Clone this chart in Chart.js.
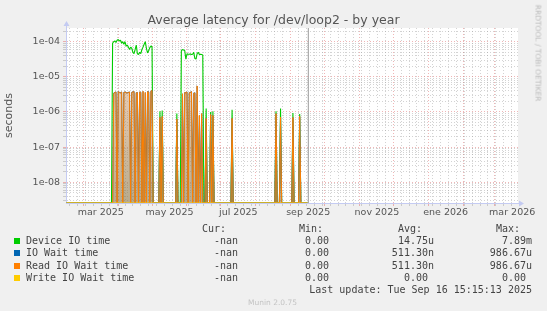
<!DOCTYPE html>
<html>
<head>
<meta charset="utf-8">
<script src="https://cdn.jsdelivr.net/npm/chart.js@4.4.1/dist/chart.umd.min.js"></script>
<style>
  body { margin: 0; background: #f0f0f0; }
  #wrap { position: relative; width: 547px; height: 311px; overflow: hidden; font-family: 'DejaVu Sans', sans-serif; }
  #chart { position: absolute; left: 0; top: 0; }
  .title { position: absolute; left: 0; width: 547px; top: 12px; text-align: center; font-size: 12.5px; line-height: 16px; color: #555; }
  .brand { position: absolute; left: 538px; top: 53px; transform: translate(-50%, -50%) rotate(90deg); font-size: 7.5px; color: #bbb; white-space: nowrap; }
  .mono { position: absolute; font-family: 'DejaVu Sans Mono', monospace; font-size: 10px; line-height: 12px; color: #444; white-space: pre; }
  .swatch { position: absolute; width: 6px; height: 6px; }
  .munin { position: absolute; left: 0; width: 545px; top: 298px; text-align: center; font-size: 7.5px; line-height: 10px; color: #c4c4c4; }
</style>
</head>
<body>
<div id="wrap">
  <canvas id="chart" width="547" height="311"></canvas>
  <div class="title">Average latency for /dev/loop2 - by year</div>
  <div class="brand">RRDTOOL / TOBI OETIKER</div>
  <div id="legend"></div>
  <div class="munin">Munin 2.0.75</div>
</div>
<script>
// days are counted from 1 Jan 2025 (= 0); one sample per day
const FIRST_DAY = 44;              // 14 Feb 2025
const LAST_UPDATE_DAY = 258.64;    // Tue Sep 16 15:15 2025
const X_MIN = 43.65, X_MAX = 444.7;
const Y_MIN = 2.58e-9, Y_MAX = 2.45e-4;

// Device IO time (s), d44 .. d258, ten days per row
const deviceIoTime = [
  0, 0, 0, 0, 0, 0, 0, 0, 0, 0,
  0, 0, 0, 0, 0, 0, 0, 0, 0, 0,
  0, 0, 0, 0, 0, 0, 0, 0, 0, 0,
  0, 0, 0, 0, 0, 0, 0, 0, 0, 0,
  0, 9.0e-5, 1.0e-4, 1.05e-4, 9.5e-5, 1.1e-4, 1.15e-4, 1.05e-4, 1.1e-4, 9.0e-5,
  1.0e-4, 8.5e-5, 1.0e-4, 7.5e-5, 8.0e-5, 7.0e-5, 6.0e-5, 7.0e-5, 6.5e-5, 5.0e-5,
  4.6e-5, 6.0e-5, 8.0e-5, 4.5e-5, 4.3e-5, 5.0e-5, 4.6e-5, 6.0e-5, 7.0e-5, 8.5e-5,
  1.0e-4, 6.5e-5, 4.8e-5, 5.5e-5, 6.8e-5, 7.5e-5, 7.2e-5, 0, 0, 0,
  0, 0, 0, 1.05e-6, 0, 1.1e-6, 0, 0, 0, 0,
  0, 0, 0, 0, 0, 0, 0, 0, 9.0e-7, 0,
  0, 0, 5.5e-5, 6.0e-5, 5.8e-5, 5.6e-5, 3.2e-5, 4.5e-5, 4.4e-5, 4.4e-5,
  4.5e-5, 4.3e-5, 4.4e-5, 5.0e-5, 3.3e-5, 3.2e-5, 4.6e-5, 5.0e-5, 4.3e-5, 4.4e-5,
  4.3e-5, 4.2e-5, 0, 0, 1.25e-6, 0, 0, 0, 1.0e-6, 0,
  1.05e-6, 0, 0, 0, 0, 0, 0, 0, 0, 0,
  0, 0, 0, 0, 0, 0, 0, 1.15e-6, 0, 0,
  0, 0, 0, 0, 0, 0, 0, 0, 0, 0,
  0, 0, 0, 0, 0, 0, 0, 0, 0, 0,
  0, 0, 0, 0, 0, 0, 0, 0, 0, 0,
  0, 0, 0, 0, 0, 0, 1.05e-6, 0, 0, 0,
  1.25e-6, 0, 0, 0, 0, 0, 0, 0, 0, 0,
  0, 9.3e-7, 0, 0, 0, 0, 0, 8.7e-7, 0, 0,
  0, 0, 0, 0, 0
];

// Read IO Wait time (s), same days
const readIoWaitTime = [
  0, 0, 0, 0, 0, 0, 0, 0, 0, 0,
  0, 0, 0, 0, 0, 0, 0, 0, 0, 0,
  0, 0, 0, 0, 0, 0, 0, 0, 0, 0,
  0, 0, 0, 0, 0, 0, 0, 0, 0, 0,
  0, 0, 3.4e-6, 3.6e-6, 3.7e-6, 0, 3.8e-6, 3.6e-6, 3.5e-6, 3.7e-6,
  0, 3.6e-6, 3.7e-6, 3.5e-6, 3.5e-6, 3.6e-6, 3.7e-6, 0, 3.6e-6, 3.7e-6,
  3.8e-6, 0, 3.5e-6, 3.6e-6, 0, 3.7e-6, 3.6e-6, 0, 3.9e-6, 0,
  3.6e-6, 0, 3.8e-6, 3.7e-6, 0, 3.9e-6, 4.1e-6, 0, 0, 0,
  0, 0, 0, 7.0e-7, 0, 7.5e-7, 0, 0, 0, 0,
  0, 0, 0, 0, 0, 0, 0, 0, 6.3e-7, 0,
  0, 0, 0, 3.3e-6, 0, 3.6e-6, 3.5e-6, 3.7e-6, 0, 3.5e-6,
  3.6e-6, 3.8e-6, 0, 3.4e-6, 3.5e-6, 0, 5.5e-6, 0, 8.0e-7, 0,
  9.0e-7, 0, 0, 0, 6.6e-7, 0, 0, 0, 8.5e-7, 0,
  8.0e-7, 0, 0, 0, 0, 0, 0, 0, 0, 0,
  0, 0, 0, 0, 0, 0, 0, 6.6e-7, 0, 0,
  0, 0, 0, 0, 0, 0, 0, 0, 0, 0,
  0, 0, 0, 0, 0, 0, 0, 0, 0, 0,
  0, 0, 0, 0, 0, 0, 0, 0, 0, 0,
  0, 0, 0, 0, 0, 0, 9.0e-7, 0, 0, 0,
  7.2e-7, 0, 0, 0, 0, 0, 0, 0, 0, 0,
  0, 7.0e-7, 0, 0, 0, 0, 0, 7.5e-7, 0, 0,
  0, 0, 0, 0, 0
];

// IO Wait time equals the read wait in this graph (same avg and max)
const ioWaitTime = readIoWaitTime;

// Write IO Wait time (s): zero all year
const writeIoWaitTime = [
  0, 0, 0, 0, 0, 0, 0, 0, 0, 0,
  0, 0, 0, 0, 0, 0, 0, 0, 0, 0,
  0, 0, 0, 0, 0, 0, 0, 0, 0, 0,
  0, 0, 0, 0, 0, 0, 0, 0, 0, 0,
  0, 0, 0, 0, 0, 0, 0, 0, 0, 0,
  0, 0, 0, 0, 0, 0, 0, 0, 0, 0,
  0, 0, 0, 0, 0, 0, 0, 0, 0, 0,
  0, 0, 0, 0, 0, 0, 0, 0, 0, 0,
  0, 0, 0, 0, 0, 0, 0, 0, 0, 0,
  0, 0, 0, 0, 0, 0, 0, 0, 0, 0,
  0, 0, 0, 0, 0, 0, 0, 0, 0, 0,
  0, 0, 0, 0, 0, 0, 0, 0, 0, 0,
  0, 0, 0, 0, 0, 0, 0, 0, 0, 0,
  0, 0, 0, 0, 0, 0, 0, 0, 0, 0,
  0, 0, 0, 0, 0, 0, 0, 0, 0, 0,
  0, 0, 0, 0, 0, 0, 0, 0, 0, 0,
  0, 0, 0, 0, 0, 0, 0, 0, 0, 0,
  0, 0, 0, 0, 0, 0, 0, 0, 0, 0,
  0, 0, 0, 0, 0, 0, 0, 0, 0, 0,
  0, 0, 0, 0, 0, 0, 0, 0, 0, 0,
  0, 0, 0, 0, 0, 0, 0, 0, 0, 0,
  0, 0, 0, 0, 0
];

// x axis: month starts (red grid) and the labelled ones
const monthStartDays = [59, 90, 120, 151, 181, 212, 243, 273, 304, 334, 365, 396, 424];
const monthLabels = ['mar 2025', '', 'may 2025', '', 'jul 2025', '', 'sep 2025', '', 'nov 2025', '', 'ene 2026', '', 'mar 2026'];
const FIRST_MONDAY = 47; // weekly grid

// y axis labels
const yDecades = [1e-8, 1e-7, 1e-6, 1e-5, 1e-4];
const yDecadeLabels = ['1e-08', '1e-07', '1e-06', '1e-05', '1e-04'];

// legend table
const seriesNames = ['Device IO time', 'IO Wait time', 'Read IO Wait time', 'Write IO Wait time'];
const seriesColors = ['#00cc00', '#0066b3', '#ff8000', '#ffcc00'];
const curValues = ['-nan', '-nan', '-nan', '-nan'];
const minValues = ['0.00', '0.00', '0.00', '0.00'];
const avgValues = ['14.75u', '511.30n', '511.30n', '0.00'];
const maxValues = ['7.89m', '986.67u', '986.67u', '0.00'];
const lastUpdate = 'Last update: Tue Sep 16 15:15:13 2025';

const MAJOR_GRID = 'rgba(225, 110, 110, 0.5)';
const MINOR_GRID = 'rgba(150, 150, 150, 0.42)';
const AXIS_COLOR = '#c4cbf2';

// zero can't sit on a log axis, rrdtool draws it on the floor
const toPoints = arr => arr.map((v, i) => ({ x: FIRST_DAY + i, y: v > 0 ? v : Y_MIN }));

const plotFrame = {
  id: 'plotFrame',
  beforeDraw(chart) {
    const { ctx, chartArea: a } = chart;
    ctx.save();
    ctx.fillStyle = '#ffffff';
    ctx.fillRect(a.left, a.top, a.right - a.left, a.bottom - a.top);
    ctx.restore();
  },
  afterDraw(chart) {
    const { ctx, chartArea: a } = chart;
    const x = Math.round(a.left) + 0.5, y = Math.round(a.bottom) + 0.5;
    ctx.save();
    ctx.strokeStyle = AXIS_COLOR;
    ctx.fillStyle = AXIS_COLOR;
    ctx.lineWidth = 1;
    ctx.beginPath();
    ctx.moveTo(x, a.top); ctx.lineTo(x, a.top - 3);
    ctx.moveTo(a.right, y); ctx.lineTo(a.right + 2, y);
    ctx.stroke();
    ctx.beginPath();
    ctx.moveTo(x - 3, a.top - 2); ctx.lineTo(x + 3, a.top - 2); ctx.lineTo(x, a.top - 7); ctx.closePath();
    ctx.moveTo(a.right + 1, y - 3); ctx.lineTo(a.right + 1, y + 3); ctx.lineTo(a.right + 6, y); ctx.closePath();
    ctx.fill();
    ctx.restore();
  }
};

const lineStyle = { pointRadius: 0, borderWidth: 1.1, borderJoinStyle: 'bevel', tension: 0, fill: false };

new Chart(document.getElementById('chart'), {
  type: 'line',
  data: {
    datasets: [
      { label: 'now', data: [{ x: LAST_UPDATE_DAY, y: Y_MIN }, { x: LAST_UPDATE_DAY, y: Y_MAX }],
        borderColor: '#9a9a9a', borderWidth: 1, pointRadius: 0 },
      { label: seriesNames[3], data: toPoints(writeIoWaitTime), borderColor: seriesColors[3], ...lineStyle },
      { label: seriesNames[2], data: toPoints(readIoWaitTime), borderColor: seriesColors[2], ...lineStyle,
        borderWidth: 1,
        fill: 'start',
        backgroundColor: ctx => {
          const chart = ctx.chart;
          const a = chart.chartArea;
          if (!a) return 'rgba(0,0,0,0)';
          const top = chart.scales.y.getPixelForValue(4e-6);
          const g = chart.ctx.createLinearGradient(0, top, 0, a.bottom);
          g.addColorStop(0, 'rgba(205, 150, 100, 0.5)');
          g.addColorStop(1, 'rgba(140, 118, 70, 0.62)');
          return g;
        } },
      { label: seriesNames[1], data: toPoints(ioWaitTime), borderColor: seriesColors[1], ...lineStyle },
      { label: seriesNames[0], data: toPoints(deviceIoTime), borderColor: seriesColors[0], ...lineStyle }
    ]
  },
  options: {
    responsive: false,
    animation: false,
    devicePixelRatio: 1,
    events: [],
    layout: { padding: { left: 0, right: 29, top: 28, bottom: 0 } },
    plugins: { legend: { display: false }, tooltip: { enabled: false } },
    scales: {
      x: {
        type: 'linear',
        min: X_MIN,
        max: X_MAX,
        afterBuildTicks: scale => {
          const ticks = monthStartDays.map((d, i) => ({ value: d, isMonth: true, text: monthLabels[i] }));
          for (let d = FIRST_MONDAY; d < X_MAX; d += 7) {
            if (!monthStartDays.includes(d)) ticks.push({ value: d, isMonth: false, text: '' });
          }
          ticks.sort((a, b) => a.value - b.value);
          scale.ticks = ticks;
        },
        afterFit: scale => {
          scale.height = 108;
          scale.paddingLeft = 0;
          scale.paddingRight = 0;
        },
        ticks: {
          autoSkip: false,
          maxRotation: 0,
          minRotation: 0,
          labelOffset: 17.5,
          padding: 1,
          color: '#555',
          font: { family: 'DejaVu Sans', size: 9.5 },
          callback: (v, i, ticks) => ticks[i].text
        },
        grid: {
          color: ctx => (ctx.tick && ctx.tick.isMonth ? MAJOR_GRID : MINOR_GRID),
          tickLength: 3,
          lineWidth: 1
        },
        border: { color: AXIS_COLOR, width: 1, dash: [1, 2] }
      },
      y: {
        type: 'logarithmic',
        min: Y_MIN,
        max: Y_MAX,
        afterBuildTicks: scale => {
          const ticks = [];
          for (let e = -9; e <= -4; e++) {
            for (let m = 1; m <= 9; m++) {
              const v = m * Math.pow(10, e);
              if (v < Y_MIN || v > Y_MAX) continue;
              const k = m === 1 ? yDecades.findIndex(d => Math.abs(d - v) < d * 1e-6) : -1;
              ticks.push({ value: v, decade: m === 1, text: k >= 0 ? yDecadeLabels[k] : '' });
            }
          }
          scale.ticks = ticks;
        },
        afterFit: scale => {
          scale.width = 66;
          scale.paddingTop = 0;
          scale.paddingBottom = 0;
        },
        ticks: {
          autoSkip: false,
          padding: 3,
          color: '#555',
          font: { family: 'DejaVu Sans', size: 9.5 },
          callback: (v, i, ticks) => ticks[i].text
        },
        grid: {
          color: ctx => (ctx.tick && ctx.tick.decade ? MAJOR_GRID : MINOR_GRID),
          tickLength: 3,
          lineWidth: 1
        },
        border: { color: AXIS_COLOR, width: 1, dash: [1, 2] },
        title: {
          display: true,
          text: 'seconds',
          color: '#555',
          font: { family: 'DejaVu Sans', size: 11 },
          padding: { top: 3, bottom: 0 }
        }
      }
    }
  },
  plugins: [plotFrame]
});

// legend table under the plot
const legend = document.getElementById('legend');
function place(text, edge, centerY, alignRight) {
  const el = document.createElement('div');
  el.className = 'mono';
  el.textContent = text;
  el.style.top = (centerY - 6) + 'px';
  if (alignRight) el.style.right = (547 - edge) + 'px';
  else el.style.left = edge + 'px';
  legend.appendChild(el);
}
const withUnit = v => (/[a-z]$/i.test(v) ? v : v + ' ');
const colRight = [238, 335, 434, 532];
['Cur:', 'Min:', 'Avg:', 'Max:'].forEach((h, i) => place(h + '  ', colRight[i], 228.5, true));
seriesNames.forEach((name, i) => {
  const cy = 240.7 + i * 12.4;
  const sw = document.createElement('div');
  sw.className = 'swatch';
  sw.style.left = '14px';
  sw.style.top = (cy - 3) + 'px';
  sw.style.background = seriesColors[i];
  legend.appendChild(sw);
  place(name, 26, cy, false);
  place(withUnit(curValues[i]), colRight[0], cy, true);
  place(withUnit(minValues[i]), colRight[1], cy, true);
  place(withUnit(avgValues[i]), colRight[2], cy, true);
  place(withUnit(maxValues[i]), colRight[3], cy, true);
});
place(lastUpdate, 532, 290, true);
</script>
</body>
</html>
